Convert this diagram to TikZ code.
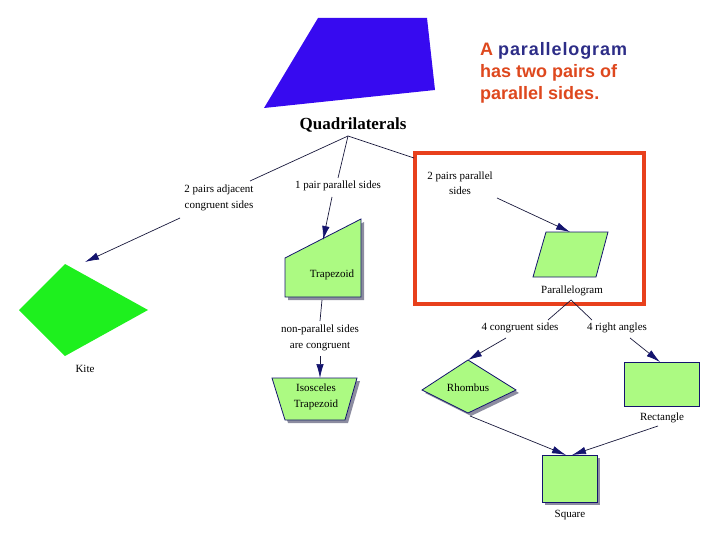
\documentclass[tikz,border=0pt]{standalone}
\usepackage{fontspec}
\setmainfont{Liberation Serif}
\newfontfamily\arialf{Liberation Sans}
\usetikzlibrary{arrows.meta}
\definecolor{navyl}{RGB}{20,20,110}
\definecolor{lineblk}{RGB}{25,25,60}
\definecolor{shapegreen}{RGB}{172,250,130}
\definecolor{shadowgray}{RGB}{140,140,160}
\definecolor{kitegreen}{RGB}{30,240,30}
\definecolor{quadblue}{RGB}{55,10,240}
\definecolor{boxred}{RGB}{232,64,28}
\definecolor{callred}{RGB}{222,72,30}
\definecolor{callnavy}{RGB}{45,45,135}
\begin{document}
\begin{tikzpicture}[x=1pt,y=-1pt,
  lbl/.style={font=\fontsize{11}{15.5}\selectfont, align=center, inner sep=1pt},
  conn/.style={draw=lineblk, line width=0.7pt},
  arr/.style={conn, -{Latex[length=14pt,width=7.5pt,color=navyl]}},
  shp/.style={fill=shapegreen, draw=navyl, line width=0.8pt},
  shd/.style={fill=shadowgray},
  call/.style={anchor=base west, inner sep=0pt, font=\arialf\bfseries\fontsize{18}{22}\selectfont, text=callred}]
\useasboundingbox (0,0) rectangle (720,540);

% blue quadrilateral
\fill[quadblue] (264,108) -- (318,18) -- (427,18) -- (435,90) -- cycle;

% callout text
\node[call] (c1) at (480,56) {A \textcolor{callnavy}{\addfontfeature{LetterSpace=5}parallelogram}};
\node[call] (c2) at (480,78) {has two pairs of};
\node[call] (c3) at (480,100) {parallel sides.};

% red frame
\draw[boxred, line width=4pt] (415,153) rectangle (644,304);

% title
\node[font=\bfseries\fontsize{17}{20}\selectfont, inner sep=1pt] (quad) at (353,125) {Quadrilaterals};

% kite
\fill[kitegreen] (65,264) -- (148,310) -- (65,356) -- (19,310) -- cycle;

% trapezoid
\fill[shd] (288,261) -- (364,222) -- (364,300) -- (288,300) -- cycle;
\draw[shp] (285,258) -- (361,219) -- (361,297) -- (285,297) -- cycle;

% parallelogram
\draw[shp] (546,232) -- (608,232) -- (596,277) -- (533,277) -- cycle;

% isosceles trapezoid
\fill[shd] (275,381) -- (360,381) -- (348,423) -- (288,423) -- cycle;
\draw[shp] (272,378) -- (357,378) -- (345,420) -- (285,420) -- cycle;

% rhombus
\fill[shd] (471,363) -- (519,393) -- (471,416) -- (425,393) -- cycle;
\draw[shp] (468,360) -- (516,390) -- (468,413) -- (422,390) -- cycle;

% rectangle
\draw[shp] (624,362) rectangle (699,406);

% square
\fill[shd] (545,458) rectangle (600,505);
\draw[shp] (542,455) rectangle (597,502);

% labels
\node[lbl] (adj) at (219,198) {2 pairs adjacent\\congruent sides};
\node[lbl] (onepair) at (338,186) {1 pair parallel sides};
\node[lbl] (twopair) at (460,183) {2 pairs parallel\\sides};
\node[lbl] (trapl) at (332,275) {Trapezoid};
\node[lbl] (paral) at (572,291) {Parallelogram};
\node[lbl] (kitel) at (85,369) {Kite};
\node[lbl] (nonpar) at (320,338) {non-parallel sides\\are congruent};
\node[lbl] (isol) at (316,397) {Isosceles\\Trapezoid};
\node[lbl] (rhl) at (468,388) {Rhombus};
\node[lbl] (fourcong) at (520,328) {4 congruent sides};
\node[lbl] (fourright) at (617,328) {4 right angles};
\node[lbl] (rectl) at (662,418) {Rectangle};
\node[lbl] (sql) at (570,515) {Square};

% connection points
\coordinate (qb) at (348,136);
\coordinate (adjin) at (250,181);
\coordinate (adjout) at (180,218);
\coordinate (kitetop) at (85,262);
\coordinate (oneIn) at (338,178);
\coordinate (oneOut) at (332,197);
\coordinate (traptop) at (323,240);
\coordinate (twoIn) at (414,158);
\coordinate (twoOut) at (497,198);
\coordinate (paratop) at (570,232);
\coordinate (trapbot) at (322,300);
\coordinate (nonIn) at (320,321);
\coordinate (nonOut) at (320,356);
\coordinate (isotop) at (320,378);
\coordinate (parab) at (571,300);
\coordinate (congIn) at (548,320);
\coordinate (rightIn) at (592,320);
\coordinate (congOut) at (506,338);
\coordinate (rhtop) at (468,360);
\coordinate (rightOut) at (630,338);
\coordinate (recttop) at (660,362);
\coordinate (rhbot) at (470,416);
\coordinate (sqtopl) at (566,455);
\coordinate (rectOut) at (658,426);
\coordinate (sqtopr) at (572,455);

% connectors
\draw[conn] (qb) -- (adjin);
\draw[arr] (adjout) -- (kitetop);
\draw[conn] (qb) -- (oneIn);
\draw[arr] (oneOut) -- (traptop);
\draw[conn] (qb) -- (twoIn);
\draw[arr] (twoOut) -- (paratop);
\draw[conn] (trapbot) -- (nonIn);
\draw[arr] (nonOut) -- (isotop);
\draw[conn] (parab) -- (congIn);
\draw[conn] (parab) -- (rightIn);
\draw[arr] (congOut) -- (rhtop);
\draw[arr] (rightOut) -- (recttop);
\draw[arr] (rhbot) -- (sqtopl);
\draw[arr] (rectOut) -- (sqtopr);
\end{tikzpicture}
\end{document}
